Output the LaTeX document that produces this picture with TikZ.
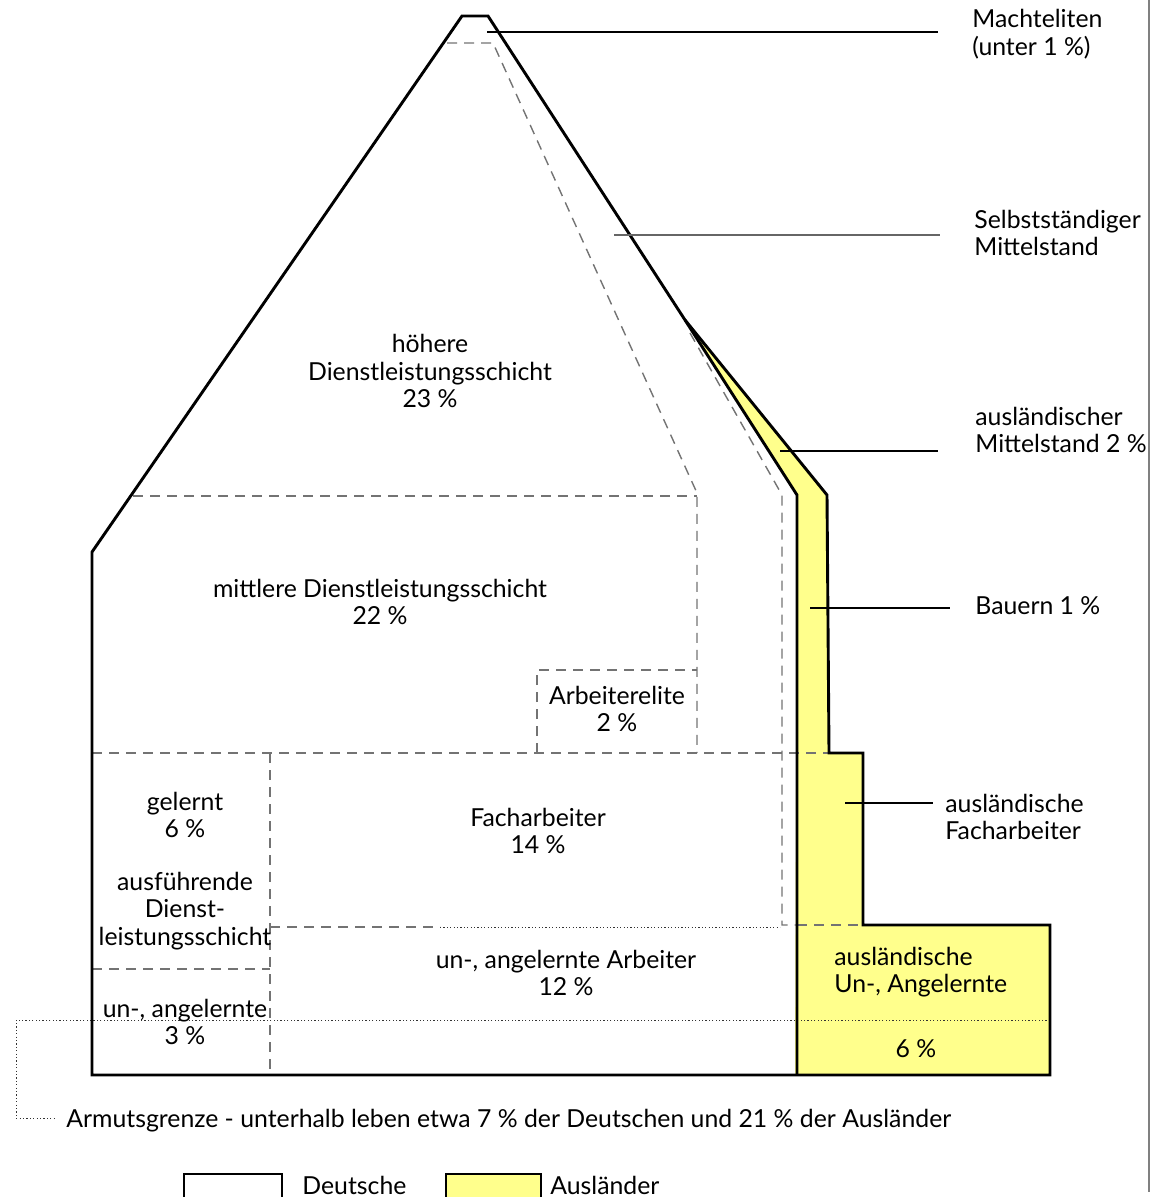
\documentclass[tikz,border=0pt]{standalone}
\usepackage{fontspec}
\setmainfont{Lato}
\definecolor{auslgelb}{RGB}{255,255,140}
\begin{document}
\begin{tikzpicture}[x=0.5pt,y=-0.5pt,
  outline/.style={draw=black, line width=1.45pt, line join=miter},
  dashline/.style={draw=black!55, line width=0.7pt, dash pattern=on 5pt off 3.5pt},
  dotline/.style={draw=black!80, line width=0.5pt, dash pattern=on 0.6pt off 1.1pt},
  leader/.style={draw=black, line width=0.6pt},
  lbl/.style={font=\fontsize{12.4}{13.75}\selectfont, align=center, inner sep=0pt},
  lbll/.style={lbl, align=left, anchor=west}]
\useasboundingbox (0,0) rectangle (1151,1197);

% right edge line
\draw[black!50, line width=0.6pt] (1149,0) -- (1149,1192);

% yellow area (Auslaender)
\fill[auslgelb] (685,320) -- (827,495) -- (829,753) -- (863,753) -- (863,925)
  -- (1050,925) -- (1050,1075) -- (795,1075) -- (797,495) -- cycle;

% dashed interior divisions
\draw[dashline] (447,43) -- (493,43) -- (697,493) -- (697,753);
\draw[dashline] (133,496) -- (697,496);
\draw[dashline] (537,753) -- (537,670) -- (697,670);
\draw[dashline] (92,753) -- (829,753);
\draw[dashline] (690,333) -- (782,495) -- (782,925) -- (797,925);
\draw[dashline] (797,925) -- (863,925);
\draw[dashline] (270,753) -- (270,1075);
\draw[dashline] (92,969) -- (270,969);
\draw[dashline] (270,927) -- (440,927);
\draw[dotline] (440,927) -- (780,927);

% poverty line
\coordinate (pA) at (1050,1020);
\coordinate (pB) at (16,1020);
\coordinate (pC) at (16,1118);
\coordinate (pD) at (56,1118);
\draw[dotline] (pA) -- (pB) -- (pC) -- (pD);

% outlines
\draw[outline] (92,1075) -- (92,552) -- (462,16) -- (488,16) -- (685,320)
  -- (827,495) -- (829,753) -- (863,753) -- (863,925) -- (1050,925)
  -- (1050,1075) -- cycle;
\draw[outline] (685,320) -- (797,495) -- (797,1075);

% labels inside
\node[lbl] (hoehere) at (430,371) {höhere\\Dienstleistungsschicht\\23 \%};
\node[lbl] (mittlere) at (380,602) {mittlere Dienstleistungsschicht\\22 \%};
\node[lbl] (elite) at (617,709) {Arbeiterelite\\2 \%};
\node[lbl] (gelernt) at (185,815) {gelernt\\6 \%};
\node[lbl] (ausf) at (185,911) {ausführende\\Dienst-\\leistungsschicht};
\node[lbl] (unang) at (185,1022) {un-, angelernte\\3 \%};
\node[lbl] (fach) at (538,831) {Facharbeiter\\14 \%};
\node[lbl] (unarb) at (566,973) {un-, angelernte Arbeiter\\12 \%};
\node[lbll] (auslun) at (834,972) {ausländische\\Un-, Angelernte};
\node[lbl] (sechs) at (916,1049) {6 \%};

% labels right with leaders
\node[lbll] (macht) at (972,34) {Machteliten\\(unter 1 \%)};
\node[lbll] (selbst) at (974,233) {Selbstständiger\\Mittelstand};
\node[lbll] (auslm) at (975,430) {ausländischer\\Mittelstand 2 \%};
\node[lbll] (bauern) at (975,606) {Bauern 1 \%};
\node[lbll] (auslf) at (945,817) {ausländische\\Facharbeiter};

\coordinate (l1a) at (487,32);  \coordinate (l1b) at (938,32);
\coordinate (l2a) at (614,235); \coordinate (l2b) at (940,235);
\coordinate (l3a) at (780,451); \coordinate (l3b) at (938,451);
\coordinate (l4a) at (810,608); \coordinate (l4b) at (950,608);
\coordinate (l5a) at (845,803); \coordinate (l5b) at (933,803);
\draw[leader] (l1a) -- (l1b);
\draw[leader, draw=black!60] (l2a) -- (l2b);
\draw[leader] (l3a) -- (l3b);
\draw[leader] (l4a) -- (l4b);
\draw[leader] (l5a) -- (l5b);

% poverty text
\node[lbl, anchor=west] (armut) at (66,1121) {Armutsgrenze - unterhalb leben etwa 7 \% der Deutschen und 21 \% der Ausländer};

% legend
\node[draw=black, line width=0.9pt, fill=white, minimum width=49pt, minimum height=20pt,
  anchor=north west, inner sep=0pt] (legD) at (183,1173) {};
\node[lbl, anchor=west] (legDt) at (302,1185) {Deutsche};
\node[draw=black, line width=0.9pt, fill=auslgelb, minimum width=47.5pt, minimum height=20pt,
  anchor=north west, inner sep=0pt] (legA) at (445,1173) {};
\node[lbl, anchor=west] (legAt) at (550,1185) {Ausländer};
\end{tikzpicture}
\end{document}
